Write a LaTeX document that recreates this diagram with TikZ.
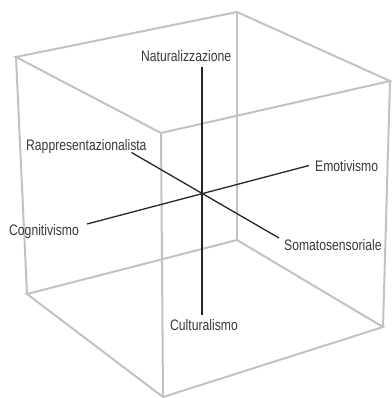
\documentclass[tikz,border=0pt]{standalone}
\usepackage{fontspec}
\newfontfamily\axisfont{Liberation Sans}[FakeStretch=0.8]
\usepackage{tikz}
\usetikzlibrary{arrows,arrows.meta}

\definecolor{edgegray}{HTML}{C2C2C2}
\definecolor{axisgray}{HTML}{262626}
\definecolor{labelgray}{HTML}{383838}

\begin{document}
\begin{tikzpicture}[
x=1pt, y=-1pt,
edge/.style={draw=edgegray,line width=2pt,line join=miter},
axis/.style={draw=axisgray,line width=1.3pt},
lab/.style={font=\axisfont\fontsize{15.2}{17}\selectfont,text=labelgray,inner sep=0pt,anchor=base west} ]

\useasboundingbox (0,0) rectangle (391,398);

% cube corners
\coordinate (TL) at (16,57);
\coordinate (TB) at (237,12);
\coordinate (TR) at (390,81);
\coordinate (TF) at (161,133);
\coordinate (BL) at (27,294);
\coordinate (BB) at (237,240);
\coordinate (BR) at (383,327);
\coordinate (BF) at (163,397);

\draw[edge] (TL) -- (TB) -- (TR) -- (TF) -- cycle;
\draw[edge] (BL) -- (BB) -- (BR) -- (BF) -- cycle;
\draw[edge] (TL) -- (BL);
\draw[edge] (TB) -- (BB);
\draw[edge] (TR) -- (BR);
\draw[edge] (TF) -- (BF);

% axis ends
\coordinate (natEnd) at (202,67);
\coordinate (culEnd) at (202,315);
\coordinate (cogEnd) at (87,224);
\coordinate (emoEnd) at (309,165.5);
\coordinate (rapEnd) at (131.5,152.5);
\coordinate (somEnd) at (279,238);

\draw[axis] (natEnd) -- (culEnd);
\draw[axis] (cogEnd) -- (emoEnd);
\draw[axis] (rapEnd) -- (somEnd);

% labels
\node[lab] (nat) at (141,61.5) {Naturalizzazione};
\node[lab] (cul) at (170,330) {Culturalismo};
\node[lab] (emo) at (315,171.5) {Emotivismo};
\node[lab] (cog) at (9,235) {Cognitivismo};
\node[lab] (rap) at (26,150) {Rappresentazionalista};
\node[lab] (som) at (284,250) {Somatosensoriale};

\end{tikzpicture}
\end{document}
